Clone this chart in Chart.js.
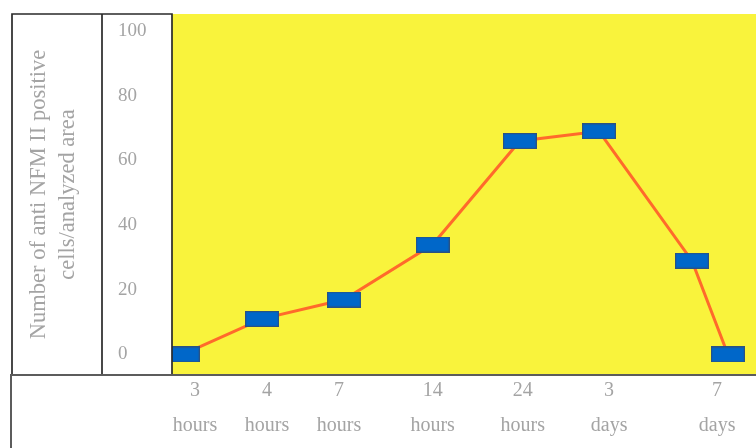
<!DOCTYPE html>
<html>
<head>
<meta charset="utf-8">
<title>Anti NFM II positive cells over time</title>
<script src="https://cdn.jsdelivr.net/npm/chart.js@4/dist/chart.umd.min.js"></script>
<style>
  html, body { margin: 0; padding: 0; background: #ffffff; }
  #wrap { width: 756px; height: 448px; }
</style>
</head>
<body>
<div id="wrap"><canvas id="chart" width="756" height="448"></canvas></div>
<script>
// Time points shown under the axis (two-line labels)
const timeLabels = [
  ["3", "hours"], ["4", "hours"], ["7", "hours"], ["14", "hours"],
  ["24", "hours"], ["3", "days"], ["7", "days"]
];
// Where each time label sits along the stage axis
const labelStage = [1, 2, 3, 4.3, 5.55, 6.75, 8.25];
// Stage of each measurement along the same axis
const pointStage = [0.83, 1.93, 3.07, 4.3, 5.51, 6.61, 7.9, 8.4];
// Number of anti NFM II positive cells per analyzed area
const nfmCounts = [0, 11, 17, 34, 66, 69, 29, 0];
// Value axis ticks
const yTicks = [0, 20, 40, 60, 80, 100];
const yTitle = ["Number of anti NFM II positive", "cells/analyzed area"];

const SERIF = "'Liberation Serif', 'Times New Roman', serif";
const GREY_TEXT = "#a4a4a4";

// Flat blue rectangle used as the point marker
function boxMarker(w, h) {
  const c = document.createElement("canvas");
  c.width = w; c.height = h;
  const g = c.getContext("2d");
  g.fillStyle = "#0067c9";
  g.fillRect(0, 0, w, h);
  g.strokeStyle = "#2a5283";
  g.lineWidth = 1.2;
  g.strokeRect(0.6, 0.6, w - 1.2, h - 1.2);
  return c;
}

// Keep the axes from reserving extra room for overhanging labels
function noEdgePadding(s) {
  s.paddingLeft = 0; s.paddingRight = 0;
  s.paddingTop = 0; s.paddingBottom = 0;
}

// Yellow plot panel, white label panels and their ruled frames
const framePanels = {
  id: "framePanels",
  beforeDraw(chart) {
    const { ctx, chartArea: a, width, height } = chart;
    ctx.save();
    ctx.fillStyle = "#ffffff";
    ctx.fillRect(0, 0, width, height);
    ctx.fillStyle = "#f9f33c";
    ctx.fillRect(a.left, a.top, width - a.left, a.bottom - a.top);
    ctx.restore();
  },
  afterDraw(chart) {
    const { ctx, chartArea: a, width, height } = chart;
    const boxLeft = 12;
    const divider = chart.scales.y.left - 16;
    ctx.save();
    ctx.lineCap = "square";
    ctx.strokeStyle = "#2a2a2a";
    ctx.lineWidth = 1.7;
    ctx.beginPath();
    ctx.moveTo(boxLeft, a.bottom);
    ctx.lineTo(boxLeft, a.top);
    ctx.lineTo(a.left, a.top);
    ctx.moveTo(a.left, a.top);
    ctx.lineTo(a.left, a.bottom);
    ctx.moveTo(divider, a.top);
    ctx.lineTo(divider, a.bottom);
    ctx.stroke();
    ctx.strokeStyle = "#5c5c5c";
    ctx.lineWidth = 2;
    ctx.beginPath();
    ctx.moveTo(width, a.bottom);
    ctx.lineTo(boxLeft - 1, a.bottom);
    ctx.lineTo(boxLeft - 1, height);
    ctx.stroke();
    ctx.restore();
  }
};

new Chart(document.getElementById("chart"), {
  type: "line",
  data: {
    datasets: [{
      label: "anti NFM II positive cells",
      data: pointStage.map((s, i) => ({ x: s, y: nfmCounts[i] })),
      borderColor: "#ff6a2b",
      borderWidth: 3,
      tension: 0,
      fill: false,
      pointStyle: boxMarker(34, 16),
      pointRadius: 8,
      pointHoverRadius: 8
    }]
  },
  options: {
    responsive: false,
    animation: false,
    events: [],
    layout: { autoPadding: false, padding: { top: 14, right: 0, bottom: 0, left: 0 } },
    plugins: {
      legend: { display: false },
      tooltip: { enabled: false }
    },
    scales: {
      x: {
        type: "linear",
        position: "bottom",
        min: 0.68,
        max: 8.79,
        grid: { display: false, drawTicks: false },
        border: { display: false },
        afterBuildTicks: s => { s.ticks = labelStage.map(v => ({ value: v })); },
        afterFit: s => { s.height = 73; noEdgePadding(s); },
        ticks: {
          autoSkip: false,
          maxRotation: 0,
          padding: -2,
          color: GREY_TEXT,
          font: { family: SERIF, size: 20, lineHeight: 1.75 },
          callback: (v, i) => timeLabels[i]
        }
      },
      y: {
        type: "linear",
        position: "left",
        weight: 0,
        min: -6.34,
        max: 105.26,
        grid: { display: false, drawTicks: false },
        border: { display: false },
        afterBuildTicks: s => { s.ticks = yTicks.map(v => ({ value: v })); },
        afterFit: s => { s.width = 54; noEdgePadding(s); },
        ticks: {
          crossAlign: "far",
          color: GREY_TEXT,
          font: { family: SERIF, size: 19 }
        }
      },
      yTitle: {
        type: "linear",
        position: "left",
        weight: 1,
        grid: { display: false, drawTicks: false },
        border: { display: false },
        ticks: { display: false },
        afterFit: s => { s.width = 118; noEdgePadding(s); },
        title: {
          display: true,
          text: yTitle,
          color: GREY_TEXT,
          font: { family: SERIF, size: 22.5, lineHeight: 1.3 },
          padding: { top: 24, bottom: 0 }
        }
      }
    }
  },
  plugins: [framePanels]
});
</script>
</body>
</html>
